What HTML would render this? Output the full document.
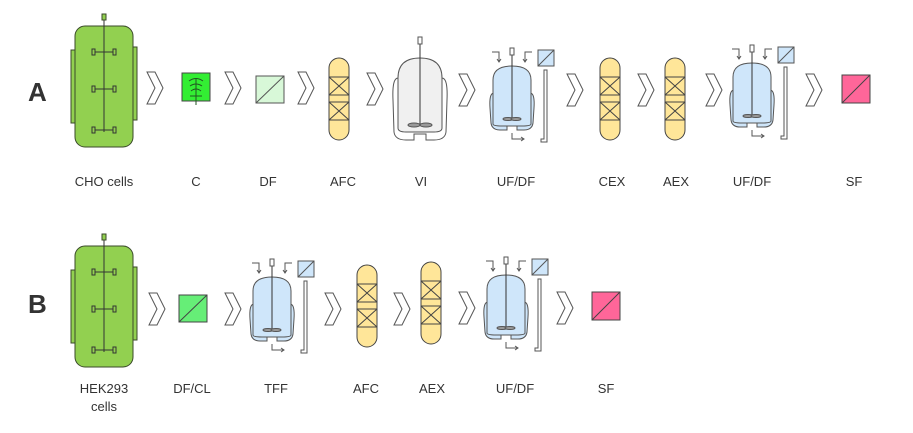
<!DOCTYPE html>
<html><head><meta charset="utf-8"><style>
html,body{margin:0;padding:0;background:#fff;}
svg{display:block;}
text{font-family:"Liberation Sans",sans-serif;fill:#333;}
</style></head><body>
<svg width="913" height="433" viewBox="0 0 913 433" xmlns="http://www.w3.org/2000/svg">
<defs>
<g id="bio" stroke="#3a4a2a" stroke-width="1">
  <rect x="71" y="50" width="7" height="73" fill="#92d050"/>
  <rect x="130" y="47" width="7" height="73" fill="#92d050"/>
  <rect x="75" y="26" width="58" height="121" rx="10" fill="#92d050"/>
  <line x1="104" y1="20" x2="104" y2="132" stroke="#333"/>
  <rect x="102" y="14" width="4" height="6" fill="#92d050"/>
  <g fill="none" stroke="#333">
    <line x1="95" y1="52" x2="113" y2="52"/><rect x="92" y="49" width="3" height="6"/><rect x="113" y="49" width="3" height="6"/>
    <line x1="95" y1="89" x2="113" y2="89"/><rect x="92" y="86" width="3" height="6"/><rect x="113" y="86" width="3" height="6"/>
    <line x1="95" y1="130" x2="113" y2="130"/><rect x="92" y="127" width="3" height="6"/><rect x="113" y="127" width="3" height="6"/>
  </g>
</g>
<polygon id="chev" points="0,0 8,0 16,16 8,32 0,32 8,16" fill="#fff" stroke="#555" stroke-width="1"/>
<g id="col" stroke="#444" stroke-width="1">
  <rect x="0" y="0" width="20" height="82" rx="10" fill="#ffe699"/>
  <rect x="0" y="19" width="20" height="18" fill="#ffe699"/>
  <path d="M0,19 L20,37 M20,19 L0,37" fill="none"/>
  <rect x="0" y="44" width="20" height="18" fill="#ffe699"/>
  <path d="M0,44 L20,62 M20,44 L0,62" fill="none"/>
</g>
<g id="uf" stroke="#555" stroke-width="1">
  <path d="M-18,45 Q-23,45 -22,60 L-21,75 Q-20,82 -12,82 L-5,82 L-5,78 L5,78 L5,82 L12,82 Q20,82 21,75 L22,60 Q23,45 18,45 Z" fill="#cfe6fa"/>
  <path d="M-19,76 L-19,32 Q-19,18 0,18 Q19,18 19,32 L19,76 Q19,78 10,78 L-10,78 Q-19,78 -19,76 Z" fill="#cfe6fa"/>
  <line x1="0" y1="7" x2="0" y2="70" stroke="#333"/>
  <rect x="-2" y="0" width="4" height="7" fill="#fff"/>
  <ellipse cx="-4" cy="71" rx="5" ry="1.5" fill="#999"/>
  <ellipse cx="4" cy="71" rx="5" ry="1.5" fill="#999"/>
  <path d="M-20,4 L-13,4 L-13,13 M-15,11 L-13,14 L-11,11" fill="none"/>
  <path d="M20,4 L13,4 L13,13 M11,11 L13,14 L15,11" fill="none"/>
  <rect x="26" y="2" width="16" height="16" fill="#cfe6fa"/>
  <line x1="26" y1="18" x2="42" y2="2"/>
  <path d="M32,22 L35,22 L35,94 L29,94 L29,91 L32,91 Z" fill="#fff"/>
  <path d="M0,85 L0,91 L11,91 M9,89 L12,91 L9,93" fill="none"/>
</g>
</defs>

<text x="28" y="101" font-size="26" font-weight="bold">A</text>
<text x="28" y="313" font-size="26" font-weight="bold">B</text>

<!-- Row A -->
<use href="#bio"/>
<use href="#chev" x="147" y="72"/>
<rect x="182" y="73" width="28" height="28" fill="#33ee33" stroke="#444"/>
<g stroke="#225522" fill="none" stroke-width="1">
  <line x1="196" y1="78" x2="196" y2="105"/>
  <path d="M189,81 Q196,76 203,81 M190,86 Q196,82 202,86 M191,91 Q196,87 201,91 M190,96 L202,96"/>
</g>
<use href="#chev" x="225" y="72"/>
<rect x="256" y="76" width="28" height="27" fill="#d8f8d8" stroke="#555"/>
<line x1="256" y1="103" x2="284" y2="76" stroke="#555"/>
<use href="#chev" x="298" y="72"/>
<use href="#col" x="329" y="58"/>
<use href="#chev" x="367" y="73"/>
<!-- VI -->
<g stroke="#555" stroke-width="1">
  <path d="M398,78 Q392,78 393,100 L394,132 Q395,140 406,140 L414,140 L414,134 L426,134 L426,140 L434,140 Q445,140 446,132 L447,100 Q448,78 442,78 Z" fill="#fff"/>
  <path d="M398,128 L398,78 Q398,58 420,58 Q442,58 442,78 L442,128 Q442,132 434,132 L406,132 Q398,132 398,128 Z" fill="#f0f0f0"/>
  <line x1="420" y1="44" x2="420" y2="124" stroke="#333"/>
  <rect x="418" y="37" width="4" height="7" fill="#fff"/>
  <ellipse cx="414" cy="125" rx="6" ry="2" fill="#999"/>
  <ellipse cx="426" cy="125" rx="6" ry="2" fill="#999"/>
</g>
<use href="#chev" x="459" y="74"/>
<use href="#uf" x="512" y="48"/>
<use href="#chev" x="567" y="74"/>
<use href="#col" x="600" y="58"/>
<use href="#chev" x="638" y="74"/>
<use href="#col" x="665" y="58"/>
<use href="#chev" x="706" y="74"/>
<use href="#uf" x="752" y="45"/>
<use href="#chev" x="806" y="74"/>
<rect x="842" y="75" width="28" height="28" fill="#ff6699" stroke="#444"/>
<line x1="842" y1="103" x2="870" y2="75" stroke="#444"/>

<g font-size="13" text-anchor="middle">
<text x="104" y="186">CHO cells</text>
<text x="196" y="186">C</text>
<text x="268" y="186">DF</text>
<text x="343" y="186">AFC</text>
<text x="421" y="186">VI</text>
<text x="516" y="186">UF/DF</text>
<text x="612" y="186">CEX</text>
<text x="676" y="186">AEX</text>
<text x="752" y="186">UF/DF</text>
<text x="854" y="186">SF</text>
</g>

<!-- Row B -->
<use href="#bio" y="220"/>
<use href="#chev" x="149" y="293"/>
<rect x="179" y="295" width="28" height="27" fill="#66ee77" stroke="#444"/>
<line x1="179" y1="322" x2="207" y2="295" stroke="#444"/>
<use href="#chev" x="225" y="293"/>
<use href="#uf" x="272" y="259"/>
<use href="#chev" x="325" y="293"/>
<use href="#col" x="357" y="265"/>
<use href="#chev" x="394" y="293"/>
<use href="#col" x="421" y="262"/>
<use href="#chev" x="459" y="292"/>
<use href="#uf" x="506" y="257"/>
<use href="#chev" x="557" y="292"/>
<rect x="592" y="292" width="28" height="28" fill="#ff6699" stroke="#444"/>
<line x1="592" y1="320" x2="620" y2="292" stroke="#444"/>

<g font-size="13" text-anchor="middle">
<text x="104" y="393">HEK293</text>
<text x="104" y="411">cells</text>
<text x="192" y="393">DF/CL</text>
<text x="276" y="393">TFF</text>
<text x="366" y="393">AFC</text>
<text x="432" y="393">AEX</text>
<text x="515" y="393">UF/DF</text>
<text x="606" y="393">SF</text>
</g>
</svg>
</body></html>
